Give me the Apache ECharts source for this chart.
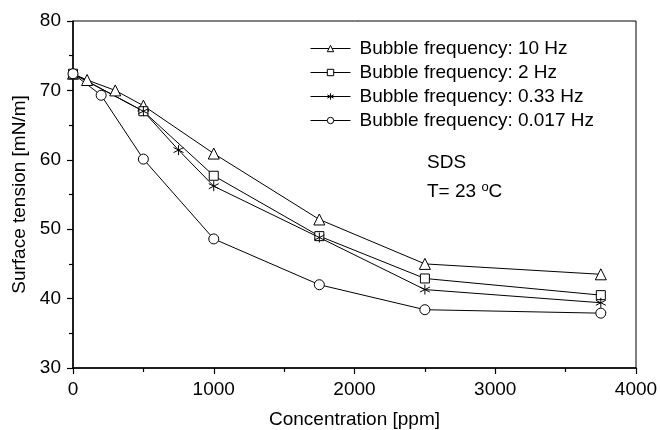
<!DOCTYPE html>
<html>
<head>
<meta charset="utf-8">
<script src="https://cdn.jsdelivr.net/npm/echarts@6/dist/echarts.min.js"></script>
<style>
  html, body { margin: 0; padding: 0; background: #fff; }
  #chart { width: 660px; height: 430px; }
</style>
</head>
<body>
<div id="chart"></div>
<script>
// Surface tension of SDS solutions vs. concentration at several bubble frequencies
const seriesNames = [
  'Bubble frequency: 10 Hz',
  'Bubble frequency: 2 Hz',
  'Bubble frequency: 0.33 Hz',
  'Bubble frequency: 0.017 Hz'
];

// concentration [ppm] and surface tension [mN/m] for each series
const conc10Hz = [0, 100, 300, 500, 1000, 1750, 2500, 3750];
const tension10Hz = [72.4, 71.5, 70.0, 67.8, 60.9, 51.4, 45.0, 43.5];

const conc2Hz = [0, 500, 1000, 1750, 2500, 3750];
const tension2Hz = [72.4, 67.0, 57.7, 49.0, 42.9, 40.5];

const conc033Hz = [0, 500, 750, 1000, 1750, 2500, 3750];
const tension033Hz = [72.4, 67.0, 61.4, 56.2, 48.8, 41.3, 39.4];

const conc0017Hz = [0, 200, 500, 1000, 1750, 2500, 3750];
const tension0017Hz = [72.4, 69.3, 60.1, 48.6, 42.0, 38.4, 37.9];

const xTicks = [0, 1000, 2000, 3000, 4000];
const yTicks = [30, 40, 50, 60, 70, 80];

const FONT = 'Liberation Sans, Arial, Helvetica, sans-serif';
const asterisk = 'path://M0,-5L0,5M-4.33,-2.5L4.33,2.5M-4.33,2.5L4.33,-2.5';

function pairs(xs, ys) { return xs.map((x, i) => [x, ys[i]]); }

function makeSeries(name, xs, ys, symbol, size) {
  return {
    name: name,
    type: 'line',
    data: pairs(xs, ys),
    symbol: symbol,
    symbolSize: size,
    showAllSymbol: true,
    lineStyle: { color: '#000', width: 1 },
    itemStyle: { color: '#fff', borderColor: '#000', borderWidth: 1 },
    emphasis: { disabled: true },
    animation: false
  };
}

const chart = echarts.init(document.getElementById('chart'), null, { renderer: 'canvas' });

chart.setOption({
  backgroundColor: '#fff',
  animation: false,
  grid: {
    left: 73, right: 24, top: 21, bottom: 62,
    outerBoundsMode: 'none',
    containLabel: false,
    show: true, borderColor: '#000', borderWidth: 1, backgroundColor: 'transparent'
  },
  legend: {
    orient: 'vertical',
    left: 305, top: 34,
    itemGap: 5,
    itemWidth: 40,
    itemHeight: 8,
    data: seriesNames,
    selectedMode: false,
    lineStyle: { width: 1 },
    itemStyle: { borderWidth: 1 },
    textStyle: { fontFamily: FONT, fontSize: 19, lineHeight: 19, color: '#000', padding: [0, 0, 0, 4] }
  },
  xAxis: {
    type: 'value',
    min: 0, max: 4000, interval: 1000,
    name: 'Concentration [ppm]',
    nameLocation: 'middle',
    nameGap: 42,
    nameTextStyle: { fontFamily: FONT, fontSize: 19, color: '#000' },
    axisLine: { show: true, lineStyle: { color: '#000', width: 1.5 } },
    axisTick: { show: true, inside: false, length: 6, lineStyle: { color: '#000', width: 1.2 } },
    minorTick: { show: true, splitNumber: 2, length: 4, lineStyle: { color: '#000', width: 1.2 } },
    splitLine: { show: false },
    axisLabel: {
      fontFamily: FONT, fontSize: 19, color: '#000', margin: 12,
      formatter: v => xTicks.includes(v) ? String(v) : ''
    }
  },
  yAxis: {
    type: 'value',
    min: 30, max: 80, interval: 10,
    name: 'Surface tension [mN/m]',
    nameLocation: 'middle',
    nameRotate: 90,
    nameGap: 43,
    nameTextStyle: { fontFamily: FONT, fontSize: 19, color: '#000' },
    axisLine: { show: true, lineStyle: { color: '#000', width: 1.5 } },
    axisTick: { show: true, inside: false, length: 6, lineStyle: { color: '#000', width: 1.2 } },
    minorTick: { show: true, splitNumber: 2, length: 4, lineStyle: { color: '#000', width: 1.2 } },
    splitLine: { show: false },
    axisLabel: {
      fontFamily: FONT, fontSize: 19, color: '#000', margin: 12,
      formatter: v => yTicks.includes(v) ? String(v) : ''
    }
  },
  graphic: [
    {
      type: 'text', left: 427, top: 153,
      style: { text: 'SDS', font: '19px ' + FONT, fill: '#000' }
    },
    {
      type: 'text', left: 427, top: 181,
      style: {
        text: 'T= 23 {sup|o}C',
        font: '19px ' + FONT, fill: '#000',
        rich: { sup: { fontSize: 13, fontFamily: FONT, verticalAlign: 'top', padding: [0, 0, 9, 0] } }
      }
    }
  ],
  series: [
    makeSeries(seriesNames[0], conc10Hz, tension10Hz, 'triangle', 11),
    makeSeries(seriesNames[1], conc2Hz, tension2Hz, 'rect', 9),
    makeSeries(seriesNames[2], conc033Hz, tension033Hz, asterisk, 10),
    makeSeries(seriesNames[3], conc0017Hz, tension0017Hz, 'circle', 10)
  ]
});
</script>
</body>
</html>
